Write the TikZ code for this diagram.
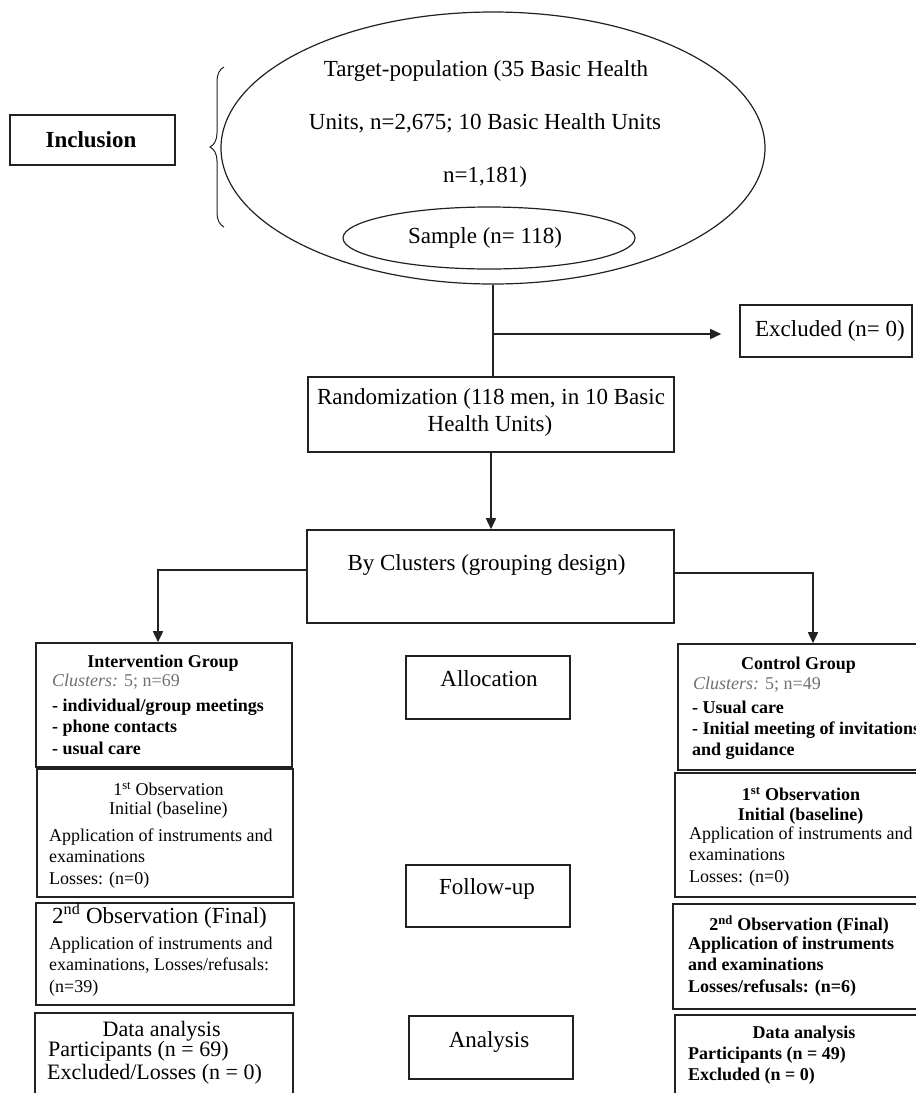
\documentclass[tikz,border=0pt]{standalone}
\usepackage{fontspec}
\setmainfont{Liberation Serif}
\usetikzlibrary{arrows.meta,decorations.pathreplacing,shapes.geometric}
\newcommand\FontBig{\fontsize{23}{23}\selectfont}
\newcommand\FontMid{\fontsize{22}{22}\selectfont}
\newcommand\FontSmall{\fontsize{18}{20}\selectfont}
\definecolor{linecol}{HTML}{222222}
\definecolor{clustcol}{HTML}{707070}
\tikzset{
  box/.style={draw=linecol, line width=1.6pt, inner sep=0pt, minimum width=#1},
  oval/.style={draw=linecol, line width=1.2pt, ellipse, inner sep=0pt},
  conn/.style={draw=linecol, line width=1.6pt},
  arr/.style={conn, -{Triangle[length=11pt,width=10pt]}},
  big/.style={inner sep=0pt, font=\FontBig},
  mid/.style={inner sep=0pt, font=\FontMid},
  sm/.style={inner sep=0pt, font=\FontSmall},
  smb/.style={inner sep=0pt, font=\FontSmall\bfseries},
}
\begin{document}
\begin{tikzpicture}[x=1pt,y=-1pt]
\useasboundingbox (0,0) rectangle (916,1093);
\clip (0,0) rectangle (916,1093);
\fill[white] (0,0) rectangle (916,1093);

% ---- top part
\node[box=165pt, minimum height=50pt] (incl) at (92.5,140) {};
\node[big, font=\FontBig\bfseries] (incltxt) at (91,140) {Inclusion};

\node[oval, minimum width=544pt, minimum height=272pt] (pop) at (493,148) {};
\node[big] (pop1) at (486,71) {Target-population (35 Basic Health};
\node[big] (pop2) at (485,123) {Units, n=2,675; 10 Basic Health Units};
\node[big] (pop3) at (485,177) {n=1,181)};

\node[oval, minimum width=292pt, minimum height=62pt] (samp) at (489,238) {};
\node[big] (samptxt) at (485,238) {Sample (n= 118)};

\coordinate (brb) at (224,227);
\coordinate (brt) at (224,67);
\draw[draw=linecol, line width=1pt, decorate, decoration={brace, amplitude=14pt, aspect=0.5}] (brb) -- (brt);

\node[box=172pt, minimum height=52pt] (excl) at (826,331) {};
\node[big] (excltxt) at (830,331) {Excluded (n= 0)};

\node[box=366pt, minimum height=75pt] (rand) at (491,414.5) {};
\node[big] (rand1) at (491,399) {Randomization (118 men, in 10 Basic};
\node[big] (rand2) at (490,426) {Health Units)};

\coordinate (br) at (493,334);
\draw[conn] (pop.south) -- (pop.south |- rand.north);
\draw[arr, shorten >=18pt] (br) -- (br -| excl.west);

\node[box=367pt, minimum height=93pt] (clus) at (490.5,576.5) {};
\node[big] (clustxt) at (486.5,565) {By Clusters (grouping design)};
\draw[arr] (rand.south) -- (rand.south |- clus.north);

% ---- middle column
\node[box=164pt, minimum height=63pt] (alloc) at (488,687.5) {};
\node[big] (alloctxt) at (489,679) {Allocation};
\node[box=164pt, minimum height=62pt] (foll) at (488,896) {};
\node[big] (folltxt) at (487,889) {Follow-up};
\node[box=164pt, minimum height=63pt] (anal) at (491,1047.5) {};
\node[big] (analtxt) at (489,1042) {Analysis};

% ---- left column
\node[box=256pt, minimum height=124pt] (intv) at (164,705) {};
\node[smb] (intv1) at (163,663) {Intervention Group};
\node[sm, anchor=mid west, text=clustcol] (intv2) at (52,684) {\textit{Clusters:} 5; n=69};
\node[smb, anchor=mid west] (intv3) at (52,709) {- individual/group meetings};
\node[smb, anchor=mid west] (intv4) at (52,730) {- phone contacts};
\node[smb, anchor=mid west] (intv5) at (52,752) {- usual care};

\node[box=256pt, minimum height=128pt] (obsla) at (165,833) {};
\node[sm] (obsla1) at (168.5,789) {1\textsuperscript{st} Observation};
\node[sm] (obsla2) at (168.3,810) {Initial (baseline)};
\node[sm, anchor=mid west] (obsla3) at (49,839) {Application of instruments and};
\node[sm, anchor=mid west] (obsla4) at (49,860) {examinations};
\node[sm, anchor=mid west] (obsla5) at (49,882) {Losses: (n=0)};

\node[box=258pt, minimum height=102pt] (obslb) at (165,954) {};
\node[big, anchor=mid west] (obslb1) at (52,921) {2\textsuperscript{nd} Observation (Final)};
\node[sm, anchor=mid west] (obslb2) at (49,947) {Application of instruments and};
\node[sm, anchor=mid west] (obslb3) at (49,968) {examinations, Losses/refusals:};
\node[sm, anchor=mid west] (obslb4) at (49,990) {(n=39)};

\node[box=258pt, minimum height=90pt] (dal) at (164,1058) {};
\node[mid] (dal1) at (161.7,1031) {Data analysis};
\node[mid, anchor=mid west] (dal2) at (48,1054) {Participants (n = 69)};
\node[mid, anchor=mid west] (dal3) at (47,1077) {Excluded/Losses (n = 0)};

% ---- right column
\node[box=260pt, minimum height=126pt] (ctrl) at (808,707) {};
\node[smb] (ctrl1) at (798.5,665) {Control Group};
\node[sm, anchor=mid west, text=clustcol] (ctrl2) at (693,687) {\textit{Clusters:} 5; n=49};
\node[smb, anchor=mid west] (ctrl3) at (692,711) {- Usual care};
\node[smb, anchor=mid west] (ctrl4) at (692,732) {- Initial meeting of invitations};
\node[smb, anchor=mid west] (ctrl5) at (692,753) {and guidance};

\node[box=265pt, minimum height=124pt] (obsra) at (807.5,835) {};
\node[smb] (obsra1) at (801,794) {1\textsuperscript{st} Observation};
\node[smb] (obsra2) at (800.5,816) {Initial (baseline)};
\node[sm, anchor=mid west] (obsra3) at (689,837) {Application of instruments and};
\node[sm, anchor=mid west] (obsra4) at (689,858) {examinations};
\node[sm, anchor=mid west] (obsra5) at (689,880) {Losses: (n=0)};

\node[box=267pt, minimum height=105pt] (obsrb) at (806.5,956.5) {};
\node[smb] (obsrb1) at (799,925) {2\textsuperscript{nd} Observation (Final)};
\node[smb, anchor=mid west] (obsrb2) at (688,947) {Application of instruments};
\node[smb, anchor=mid west] (obsrb3) at (688,968) {and examinations};
\node[smb, anchor=mid west] (obsrb4) at (688,990) {Losses/refusals: (n=6)};

\node[box=265pt, minimum height=90pt] (dar) at (807.5,1060) {};
\node[smb] (dar1) at (804,1034) {Data analysis};
\node[smb, anchor=mid west] (dar2) at (688,1057) {Participants (n = 49)};
\node[smb, anchor=mid west] (dar3) at (688,1078) {Excluded (n = 0)};

% ---- connectors from clusters
\draw[arr] ([yshift=6.5pt]clus.west) -| ([xshift=-6pt]intv.north);
\draw[arr] ([yshift=3.5pt]clus.east) -| ([xshift=5pt]ctrl.north);
\end{tikzpicture}
\end{document}
